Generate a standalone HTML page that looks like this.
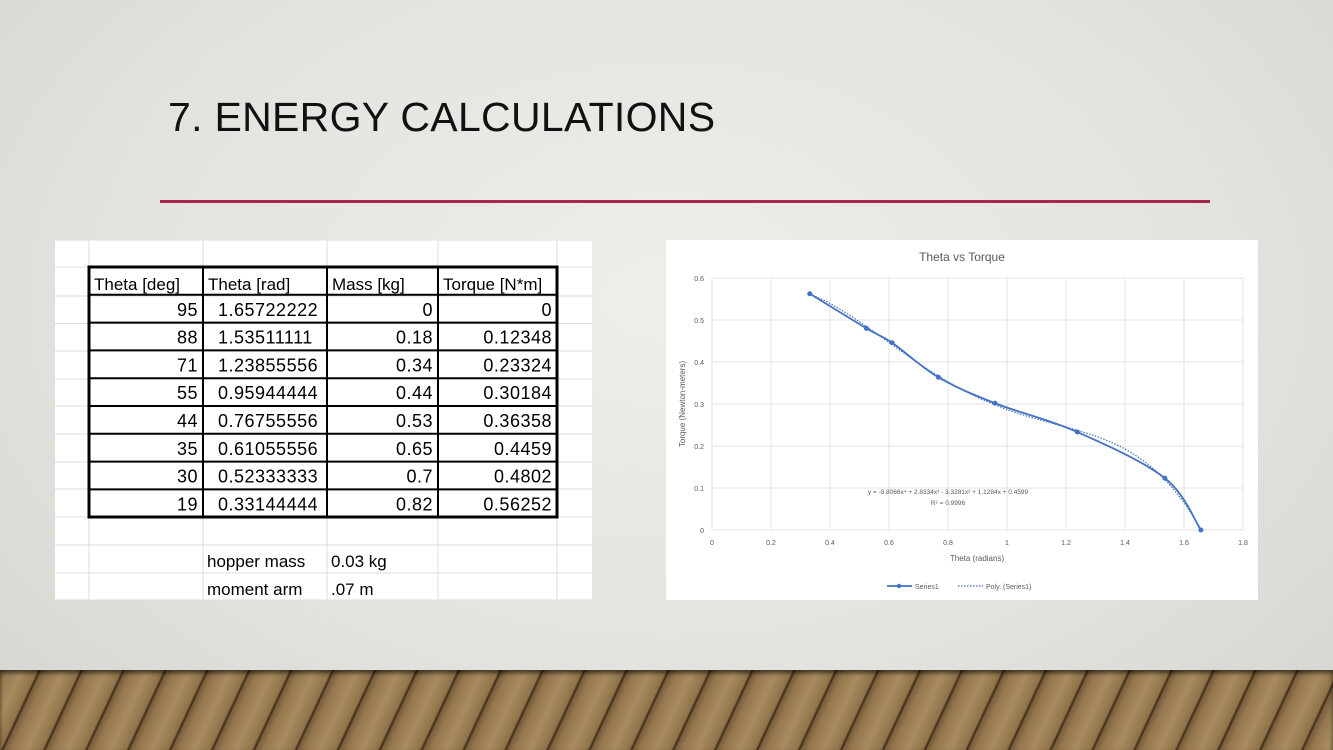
<!DOCTYPE html>
<html><head><meta charset="utf-8"><style>
html,body{margin:0;padding:0}
body{width:1333px;height:750px;position:relative;overflow:hidden;font-family:"Liberation Sans",sans-serif;
background:radial-gradient(ellipse at 50% 40%,#efeeeb 0%,#e4e2de 60%,#d6d4cf 100%);}
#title{position:absolute;left:168px;top:94px;font-size:41px;color:#111;letter-spacing:0.3px;margin:0;font-weight:normal}
#rule{position:absolute;left:160px;top:200px;width:1050px;height:3px;background:#a3294d}
#floor{position:absolute;left:0;top:670px;width:1333px;height:80px;
background:repeating-linear-gradient(115deg,#7a5f3c 0px,#94774e 6px,#a88c60 20px,#8e7249 34px,#3a2a18 36px,#7d6240 38px),#8a6d47;
box-shadow:inset 0 3px 4px rgba(0,0,0,.6)}
#sheet{position:absolute;left:55px;top:240px;width:537px;height:360px;background:#fff}
#chart{position:absolute;left:666px;top:240px;width:592px;height:360px;background:#fff}
</style></head><body>
<h1 id="title">7. ENERGY CALCULATIONS</h1>
<div id="rule"></div>
<div id="sheet">
<svg width="537" height="360" id="tsvg"></svg>
</div>
<div id="chart">
<svg width="592" height="360" id="csvg"></svg>
</div>
<div id="floor"></div>
<script>
const NS="http://www.w3.org/2000/svg";
function mk(p,t,a){const e=document.createElementNS(NS,t);for(const k in a)e.setAttribute(k,a[k]);p.appendChild(e);return e;}
// ---------- table ----------
const headers=["Theta [deg]","Theta [rad]","Mass [kg]","Torque [N*m]"];
const degs=["95","88","71","55","44","35","30","19"];
const rads=["1.65722222","1.53511111","1.23855556","0.95944444","0.76755556","0.61055556","0.52333333","0.33144444"];
const masses=["0","0.18","0.34","0.44","0.53","0.65","0.7","0.82"];
const torques=["0","0.12348","0.23324","0.30184","0.36358","0.4459","0.4802","0.56252"];
const T=document.getElementById('tsvg');
const cx=[34,148,272,383,502];
const rowY=[0,27,56,83.5,111,139,166,194,222,249,277,305,333,360];
for(const x of cx){mk(T,'line',{x1:x,y1:0,x2:x,y2:360,stroke:'#dcdcdc','stroke-width':1});}
for(const y of rowY){mk(T,'line',{x1:0,y1:y,x2:537,y2:y,stroke:'#dcdcdc','stroke-width':1});}
const tb=mk(T,'rect',{x:34,y:27,width:468,height:250,fill:'none',stroke:'#000','stroke-width':3});

for(let i=1;i<4;i++)mk(T,'line',{x1:cx[i],y1:27,x2:cx[i],y2:277,stroke:'#000','stroke-width':2});
for(let r=1;r<9;r++){const y=27+r*27.8;mk(T,'line',{x1:34,y1:y,x2:502,y2:y,stroke:'#000','stroke-width':2});}
headers.forEach((h,i)=>{const t=mk(T,'text',{x:cx[i]+5,y:50,'font-size':17,fill:'#000','font-family':'Liberation Sans, sans-serif'});t.textContent=h;
});
const cols=[degs,rads,masses,torques];
for(let r=0;r<8;r++){const y=27+(r+1)*27.8+21;
cols.forEach((c,i)=>{const t=mk(T,'text',{x:(i==1?cx[i]+15:cx[i+1]-5),y:y,'font-size':18,fill:'#000','text-anchor':(i==1?'start':'end'),'font-family':'Liberation Sans, sans-serif','letter-spacing':'0.5'});t.textContent=c[r];
});}
[["hopper mass","0.03 kg",327],["moment arm",".07 m",355]].forEach(a=>{
const t1=mk(T,'text',{x:152,y:a[2],'font-size':17,fill:'#000'});t1.textContent=a[0];

const t2=mk(T,'text',{x:276,y:a[2],'font-size':17,fill:'#000'});t2.textContent=a[1];
});
// ---------- chart ----------
const xVals=[1.65722222,1.53511111,1.23855556,0.95944444,0.76755556,0.61055556,0.52333333,0.33144444];
const yVals=[0,0.12348,0.23324,0.30184,0.36358,0.4459,0.4802,0.56252];
const xTicks=[0,0.2,0.4,0.6,0.8,1,1.2,1.4,1.6,1.8];
const yTicks=[0,0.1,0.2,0.3,0.4,0.5,0.6];
const polyCoef=[0.4599,1.1284,-3.3281,2.8334,-0.8066];
const C=document.getElementById('csvg');
const X0=46,X1=577,Y0=290,Y1=38;
const sx=v=>X0+(v-0)/(1.8-0)*(X1-X0);
const sy=v=>Y0-(v-0)/(0.6-0)*(Y0-Y1);
const tt=mk(C,'text',{x:296,y:21,'font-size':12,fill:'#595959','text-anchor':'middle'});tt.textContent='Theta vs Torque';

xTicks.forEach(v=>{mk(C,'line',{x1:sx(v),y1:Y1,x2:sx(v),y2:Y0,stroke:'#e3e3e3'});
const t=mk(C,'text',{x:sx(v),y:Y0+15,'font-size':7,fill:'#595959','text-anchor':'middle'});t.textContent=String(v);
});
yTicks.forEach(v=>{mk(C,'line',{x1:X0,y1:sy(v),x2:X1,y2:sy(v),stroke:'#e3e3e3'});
const t=mk(C,'text',{x:X0-8,y:sy(v)+3,'font-size':7,fill:'#595959','text-anchor':'end'});t.textContent=String(v);
});
const xl=mk(C,'text',{x:311,y:321,'font-size':8,fill:'#595959','text-anchor':'middle'});xl.textContent='Theta (radians)';

const yl=mk(C,'text',{x:0,y:0,'font-size':8,fill:'#595959','text-anchor':'middle',transform:'translate(19,164) rotate(-90)'});yl.textContent='Torque (Newton-meters)';

// trendline
let d='';for(let i=0;i<=80;i++){const x=xVals[7]+(xVals[0]-xVals[7])*i/80;let y=0;polyCoef.forEach((c,k)=>y+=c*Math.pow(x,k));d+=(i?'L':'M')+sx(x).toFixed(1)+' '+sy(y).toFixed(1);}
const tr=mk(C,'path',{d:d,fill:'none',stroke:'#4472c4','stroke-width':1.2,'stroke-dasharray':'1.5 1.5'});

// smooth series
const P=xVals.map((x,i)=>[sx(x),sy(yVals[i])]);
let s='M'+P[0][0]+' '+P[0][1];
for(let i=0;i<P.length-1;i++){const p0=P[Math.max(0,i-1)],p1=P[i],p2=P[i+1],p3=P[Math.min(P.length-1,i+2)];
s+='C'+(p1[0]+(p2[0]-p0[0])/6)+' '+(p1[1]+(p2[1]-p0[1])/6)+','+(p2[0]-(p3[0]-p1[0])/6)+' '+(p2[1]-(p3[1]-p1[1])/6)+','+p2[0]+' '+p2[1];}
const ln=mk(C,'path',{d:s,fill:'none',stroke:'#4472c4','stroke-width':1.8});

P.forEach(p=>{const c=mk(C,'circle',{cx:p[0],cy:p[1],r:2.5,fill:'#4472c4'});
});
const eq=mk(C,'text',{x:282,y:254,'font-size':6.5,fill:'#595959','text-anchor':'middle'});eq.textContent='y = -0.8066x⁴ + 2.8334x³ - 3.3281x² + 1.1284x + 0.4599';

const r2=mk(C,'text',{x:282,y:265,'font-size':6.5,fill:'#595959','text-anchor':'middle'});r2.textContent='R² = 0.9996';

// legend
mk(C,'line',{x1:221,y1:346,x2:246,y2:346,stroke:'#4472c4','stroke-width':1.8});
mk(C,'circle',{cx:233,cy:346,r:2.2,fill:'#4472c4'});
const l1=mk(C,'text',{x:249,y:349,'font-size':7,fill:'#595959'});l1.textContent='Series1';

mk(C,'line',{x1:292,y1:346,x2:317,y2:346,stroke:'#4472c4','stroke-width':1.2,'stroke-dasharray':'1.5 1.5'});
const l2=mk(C,'text',{x:320,y:349,'font-size':7,fill:'#595959'});l2.textContent='Poly. (Series1)';

</script>
</body></html>
